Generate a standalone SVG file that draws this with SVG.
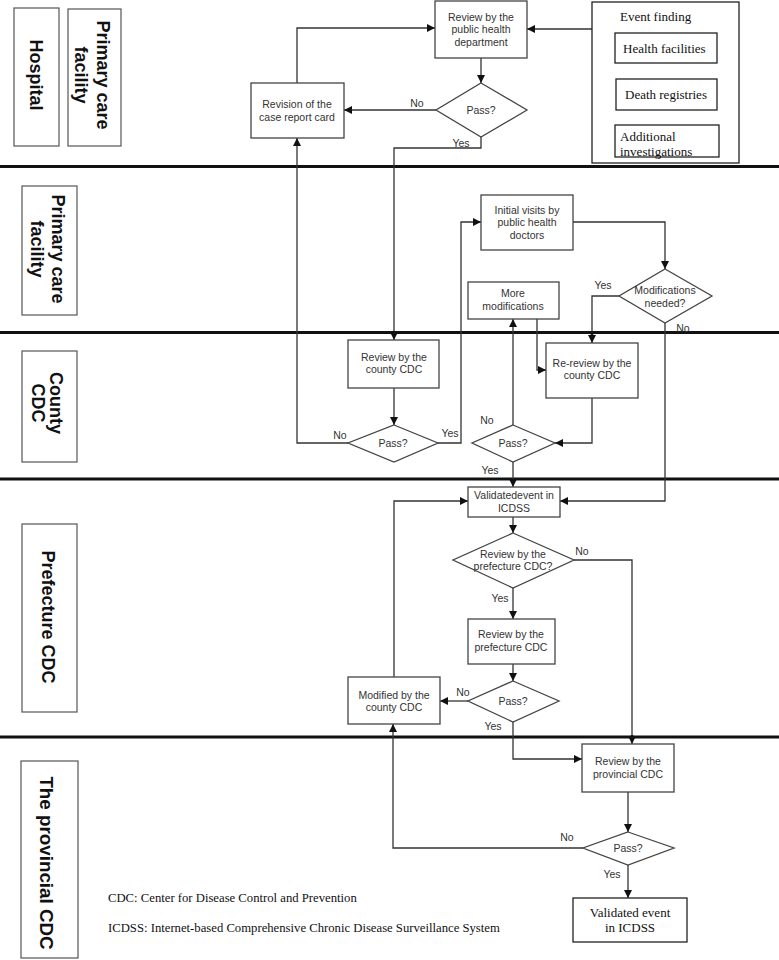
<svg xmlns="http://www.w3.org/2000/svg" width="779" height="960" viewBox="0 0 779 960">
<style>
.bg{fill:#fff}
.lane{stroke:#111;stroke-width:3}
.lbl rect{fill:#fff;stroke:#555;stroke-width:1.2}
.lbl text{font-family:"Liberation Sans",Arial,sans-serif;font-weight:bold;font-size:18px;fill:#111;text-anchor:middle}
.box rect,.box polygon{fill:#fff;stroke:#444;stroke-width:1.3}
.box text{font-family:"Liberation Sans",Arial,sans-serif;font-size:10.5px;fill:#333;text-anchor:middle}
.tbox rect{fill:#fff;stroke:#222;stroke-width:1.3}
.tbox text,.note{font-family:"Liberation Serif","Times New Roman",serif;fill:#111}
.tbox text{font-size:13px}
.note{font-size:12.7px}
.conn path{fill:none;stroke:#333;stroke-width:1.3}
.conn text{font-family:"Liberation Sans",Arial,sans-serif;font-size:10.5px;fill:#333;text-anchor:middle}
.dot{fill:#111}
</style>
<defs>
<marker id="ah" viewBox="0 0 10 10" refX="10" refY="5" markerWidth="8" markerHeight="8" markerUnits="userSpaceOnUse" orient="auto">
<path d="M0,0 L10,5 L0,10 z" fill="#111"/>
</marker>
</defs>
<rect class="bg" x="0" y="0" width="779" height="960"/>

<g id="lanes">
<line class="lane" x1="0" y1="166.5" x2="779" y2="166.5"/>
<line class="lane" x1="0" y1="332.5" x2="779" y2="332.5"/>
<line class="lane" x1="0" y1="479" x2="779" y2="479"/>
<line class="lane" x1="0" y1="737" x2="779" y2="737"/>
</g>

<g id="lane-hospital" class="lbl">
<rect x="14" y="8" width="45" height="138"/>
<text transform="translate(36,75) rotate(90)" x="0" y="6.3">Hospital</text>
</g>
<g id="lane-primary-top" class="lbl">
<rect x="68" y="9" width="53" height="137"/>
<text transform="translate(92,75) rotate(90)"><tspan x="0" y="-4.7">Primary care</tspan><tspan x="0" y="17.3">facility</tspan></text>
</g>
<g id="lane-primary" class="lbl">
<rect x="22" y="186" width="55" height="129"/>
<text transform="translate(48,249) rotate(90)"><tspan x="0" y="-4">Primary care</tspan><tspan x="0" y="17">facility</tspan></text>
</g>
<g id="lane-county" class="lbl">
<rect x="22" y="351" width="55" height="111"/>
<text transform="translate(47,403) rotate(90)"><tspan x="0" y="-3">County</tspan><tspan x="0" y="15.5">CDC</tspan></text>
</g>
<g id="lane-prefecture" class="lbl">
<rect x="22" y="524" width="55" height="188"/>
<text transform="translate(48,617) rotate(90)" x="0" y="6.3">Prefecture CDC</text>
</g>
<g id="lane-provincial" class="lbl">
<rect x="21" y="761" width="57" height="197"/>
<text transform="translate(47,863) rotate(90)" x="0" y="6.6" style="font-size:18.8px">The provincial CDC</text>
</g>

<g id="connectors" class="conn">
<path d="M297,83 V28 H435" marker-end="url(#ah)"/>
<path d="M592,29 H527" marker-end="url(#ah)"/>
<path d="M481,58 V83" marker-end="url(#ah)"/>
<path d="M436,110 H344" marker-end="url(#ah)"/>
<text x="417" y="107">No</text>
<path d="M481,137 V148 H394 V340" marker-end="url(#ah)"/>
<text x="461" y="147">Yes</text>
<path d="M348,443 H297 V138" marker-end="url(#ah)"/>
<text x="340" y="439">No</text>
<path d="M394,388 V425" marker-end="url(#ah)"/>
<path d="M438,443 H461 V222 H481" marker-end="url(#ah)"/>
<text x="450" y="437">Yes</text>
<path d="M573,222 H665 V269" marker-end="url(#ah)"/>
<path d="M619,296 H592 V343" marker-end="url(#ah)"/>
<text x="603" y="289">Yes</text>
<path d="M665,323 V501 H560" marker-end="url(#ah)"/>
<text x="683" y="332">No</text>
<path d="M537,319 V370 H546" marker-end="url(#ah)"/>
<path d="M513,425 V319" marker-end="url(#ah)"/>
<text x="487" y="424">No</text>
<path d="M592,398 V443 H555" marker-end="url(#ah)"/>
<path d="M513,462 V487" marker-end="url(#ah)"/>
<text x="490" y="474">Yes</text>
<path d="M513,517 V533" marker-end="url(#ah)"/>
<path d="M574,560 H632 V744" marker-end="url(#ah)"/>
<text x="582" y="555">No</text>
<path d="M513,588 V619" marker-end="url(#ah)"/>
<text x="500" y="602">Yes</text>
<path d="M513,664 V681" marker-end="url(#ah)"/>
<path d="M468,701 H440" marker-end="url(#ah)"/>
<text x="463" y="696">No</text>
<path d="M394,677 V501 H468" marker-end="url(#ah)"/>
<path d="M513,722 V759 H582" marker-end="url(#ah)"/>
<text x="493" y="730">Yes</text>
<path d="M628,792 V832" marker-end="url(#ah)"/>
<path d="M583,848 H393 V724" marker-end="url(#ah)"/>
<text x="567" y="841">No</text>
<path d="M628,865 V898" marker-end="url(#ah)"/>
<text x="612" y="878">Yes</text>
<circle class="dot" cx="394" cy="333" r="2"/>
<circle class="dot" cx="592" cy="333" r="2"/>
<circle class="dot" cx="632" cy="737" r="2"/>
</g>

<g id="revision" class="box">
<rect x="251" y="83" width="93" height="55"/>
<text x="297" y="108">Revision of the</text>
<text x="297" y="121">case report card</text>
</g>
<g id="review-phd" class="box">
<rect x="435" y="1" width="92" height="57"/>
<text x="481" y="20.5">Review by the</text>
<text x="481" y="33">public health</text>
<text x="481" y="45.5">department</text>
</g>
<g id="pass-top" class="box">
<polygon points="481,83 527,110 481,137 436,110"/>
<text x="481" y="114">Pass?</text>
</g>
<g id="event-finding" class="tbox">
<rect x="592" y="2" width="147" height="161"/>
<text x="620" y="21">Event finding</text>
</g>
<g id="health-facilities" class="tbox">
<rect x="615" y="33" width="102" height="30"/>
<text x="623" y="53">Health facilities</text>
</g>
<g id="death-registries" class="tbox">
<rect x="616" y="79" width="101" height="31"/>
<text x="625" y="99">Death registries</text>
</g>
<g id="additional-investigations" class="tbox">
<rect x="615" y="125" width="104" height="32"/>
<text x="620" y="141">Additional</text>
<text x="620" y="156">investigations</text>
</g>
<g id="initial-visits" class="box">
<rect x="481" y="195" width="92" height="55"/>
<text x="527" y="213.5">Initial visits by</text>
<text x="527" y="226">public health</text>
<text x="527" y="238.5">doctors</text>
</g>
<g id="modifications-needed" class="box">
<polygon points="665,269 712,296 665,323 619,296"/>
<text x="665" y="294">Modifications</text>
<text x="665" y="307">needed?</text>
</g>
<g id="more-modifications" class="box">
<rect x="468" y="282" width="91" height="37"/>
<text x="513" y="297">More</text>
<text x="513" y="310">modifications</text>
</g>
<g id="review-county" class="box">
<rect x="348" y="340" width="91" height="48"/>
<text x="394" y="361">Review by the</text>
<text x="394" y="373">county CDC</text>
</g>
<g id="pass-county" class="box">
<polygon points="394,425 438,443 394,462 348,443"/>
<text x="393" y="447">Pass?</text>
</g>
<g id="re-review-county" class="box">
<rect x="546" y="343" width="92" height="55"/>
<text x="592" y="367">Re-review by the</text>
<text x="592" y="379">county CDC</text>
</g>
<g id="pass-county-2" class="box">
<polygon points="513,425 555,443 513,462 472,443"/>
<text x="513" y="447">Pass?</text>
</g>
<g id="validated-icdss" class="box">
<rect x="468" y="487" width="92" height="30"/>
<text x="514" y="499">Validatedevent in</text>
<text x="514" y="512">ICDSS</text>
</g>
<g id="review-prefecture-q" class="box">
<polygon points="513,533 574,560 513,588 453,560"/>
<text x="513" y="558">Review by the</text>
<text x="513" y="570">prefecture CDC?</text>
</g>
<g id="review-prefecture" class="box">
<rect x="468" y="619" width="87" height="45"/>
<text x="511" y="638">Review by the</text>
<text x="511" y="651">prefecture CDC</text>
</g>
<g id="pass-prefecture" class="box">
<polygon points="513,681 559,701 513,722 468,701"/>
<text x="513" y="705">Pass?</text>
</g>
<g id="modified-county" class="box">
<rect x="348" y="677" width="92" height="47"/>
<text x="394" y="699">Modified by the</text>
<text x="394" y="711">county CDC</text>
</g>
<g id="review-provincial" class="box">
<rect x="582" y="744" width="92" height="48"/>
<text x="628" y="765">Review by the</text>
<text x="628" y="778">provincial CDC</text>
</g>
<g id="pass-provincial" class="box">
<polygon points="628,832 674,848 628,865 583,848"/>
<text x="628" y="852">Pass?</text>
</g>
<g id="validated-final" class="tbox">
<rect x="573" y="898" width="114" height="44"/>
<text x="630" y="917" text-anchor="middle">Validated event</text>
<text x="630" y="932" text-anchor="middle">in ICDSS</text>
</g>

<g id="notes">
<text class="note" x="108" y="902">CDC: Center for Disease Control and Prevention</text>
<text class="note" x="108" y="932">ICDSS: Internet-based Comprehensive Chronic Disease Surveillance System</text>
</g>
</svg>
